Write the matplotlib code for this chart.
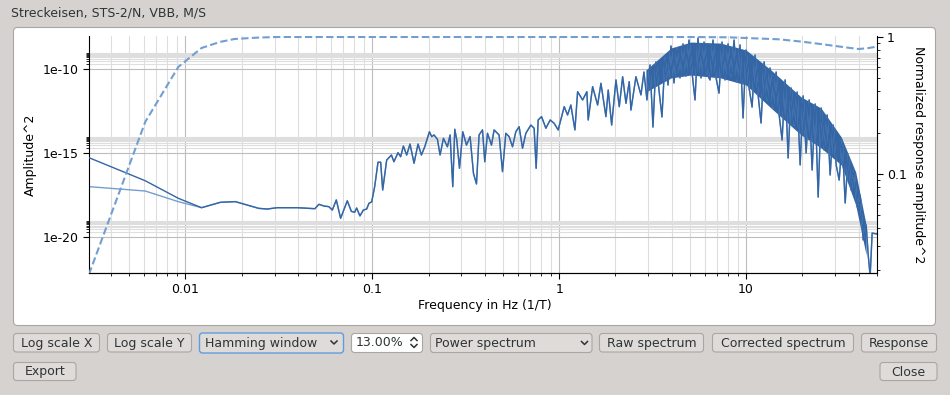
import numpy as np
import matplotlib
matplotlib.use("Agg")
import matplotlib.pyplot as plt
from matplotlib.patches import FancyBboxPatch
from matplotlib.lines import Line2D
from matplotlib.transforms import Affine2D
from matplotlib.ticker import FixedLocator, FuncFormatter, NullFormatter, LogLocator

# spectrum below ~2.6 Hz (frequency in Hz, log10 of amplitude^2)
low_freq = [
    0.00305, 0.0061, 0.00916, 0.0122, 0.0154, 0.0185, 0.0247, 0.0274, 0.0310, 0.0397, 0.0493,
    0.0518, 0.0551, 0.0586, 0.0611, 0.0642, 0.0677, 0.0735, 0.0773, 0.0805, 0.0825,
    0.0859, 0.0896, 0.0933, 0.0960, 0.0993, 0.1030, 0.1073, 0.1109, 0.1137, 0.1194,
    0.1266, 0.1306, 0.1373, 0.1419, 0.1467, 0.1528, 0.1592, 0.1673, 0.1757, 0.1832,
    0.1909, 0.2022, 0.2080, 0.2140, 0.2232, 0.2305, 0.2403, 0.2524, 0.2607, 0.2696,
    0.2763, 0.2832, 0.2928, 0.3050, 0.3192, 0.3337, 0.3479, 0.3610, 0.3728, 0.3888,
    0.3999, 0.4135, 0.4344, 0.4485, 0.4771, 0.4975, 0.5182, 0.5398, 0.5628, 0.5862,
    0.6105, 0.6368, 0.6633, 0.7056, 0.7346, 0.7530, 0.7718, 0.8049, 0.8488, 0.8952,
    0.9402, 0.9877, 1.030, 1.064, 1.109, 1.155, 1.214, 1.255, 1.335, 1.407,
    1.430, 1.510, 1.606, 1.673, 1.779, 1.830, 1.909, 2.013, 2.097, 2.186,
    2.277, 2.371, 2.421, 2.575,
]
low_exp = [
    -15.27, -16.64, -17.68, -18.24, -17.92, -17.88, -18.28, -18.32, -18.24, -18.24, -18.30,
    -18.04, -18.14, -18.18, -18.38, -17.78, -18.87, -17.83, -18.46, -18.51, -18.26,
    -18.73, -18.38, -18.32, -17.98, -17.89, -16.99, -15.54, -15.54, -17.19, -15.41,
    -15.11, -15.51, -14.97, -15.21, -14.58, -15.11, -14.46, -15.60, -14.46, -15.11,
    -14.62, -13.73, -14.02, -13.92, -14.18, -15.11, -14.12, -14.62, -13.92, -16.99,
    -13.58, -14.22, -15.90, -13.73, -14.52, -14.02, -16.20, -16.83, -13.92, -13.62,
    -15.51, -13.82, -14.52, -13.62, -13.92, -16.10, -13.82, -14.02, -14.62, -13.73,
    -13.43, -14.71, -13.82, -13.33, -13.52, -15.90, -13.03, -12.83, -13.52, -13.03,
    -13.23, -13.62, -12.83, -12.24, -12.73, -12.14, -13.62, -11.35, -11.84, -11.35,
    -13.03, -11.05, -12.14, -10.85, -12.83, -11.25, -13.33, -10.65, -12.24, -10.46,
    -12.04, -10.75, -12.44, -10.46,
]
# spectrum above ~2.7 Hz, where the trace gets dense
high_freq = [
    2.739, 2.842, 2.949, 3.061, 3.176, 3.296, 3.420, 3.549, 3.683, 3.822,
    3.966, 4.115, 4.270, 4.431, 4.598, 4.771, 4.951, 5.137, 5.331, 5.532,
    5.741, 5.957, 6.181, 6.414, 6.656, 6.906, 7.167, 7.437, 7.717, 8.008,
    8.310, 8.623, 8.948, 9.286, 9.636, 10.0, 10.38, 10.77, 11.17, 11.60,
    12.03, 12.49, 12.96, 13.44, 13.95, 14.48, 15.03, 15.59, 16.18, 16.79,
    17.42, 18.08, 18.76, 19.47, 20.20, 20.96, 21.75, 22.57, 23.43, 24.31,
    25.22, 26.17, 27.16, 28.18, 29.24, 30.35, 31.49, 32.68, 33.91, 35.19,
    36.51, 37.89, 39.31, 40.80, 42.34, 43.93, 45.03, 46.13, 47.28, 50.0,
]
high_exp = [
    -11.54, -10.18, -11.84, -9.76, -13.45, -9.58, -11.25, -12.85, -9.35, -10.95,
    -8.63, -10.83, -8.75, -10.53, -8.51, -10.42, -8.28, -10.18, -11.84, -8.16,
    -10.53, -8.40, -10.30, -10.65, -8.28, -10.53, -11.43, -8.40, -10.65, -8.51,
    -10.42, -8.28, -10.77, -8.57, -12.91, -8.87, -11.13, -12.26, -9.17, -11.54,
    -13.21, -9.58, -11.84, -9.94, -12.32, -10.18, -12.73, -14.22, -10.65, -15.29,
    -11.13, -13.33, -11.37, -15.70, -11.60, -14.99, -11.84, -16.00, -12.08, -17.61,
    -12.32, -14.81, -12.73, -16.30, -13.33, -15.70, -16.60, -14.22, -17.96, -15.11,
    -17.19, -16.00, -18.20, -17.49, -20.16, -19.27, -21.05, -22.30, -19.75, -19.80,
]
# raw spectrum only differs from the corrected one in the first bins
raw_head = [-16.99, -17.25, -17.88]

# solid core of the dense high frequency trace (lower / upper edge)
band_freq = [2.91, 3.97, 5.07, 7.30, 10.0, 13.6, 19.7, 25.2, 32.3, 38.6, 43.9]
band_hi = [-10.06, -8.75, -8.40, -8.46, -8.87, -10.06, -11.66, -12.32, -14.04, -16.12, -19.27]
band_lo = [-11.37, -10.53, -10.36, -10.53, -10.95, -12.32, -13.92, -14.69, -15.70, -18.08, -21.05]

# normalized response amplitude^2
resp_freq = [0.00305, 0.0061, 0.00916, 0.0122, 0.0153, 0.0183, 0.0244, 0.0305, 0.1, 1.0,
             5.0, 8.0, 10.0, 15.0, 20.0, 25.0, 30.0, 35.0, 40.0, 45.0, 50.0]
resp_amp = [0.0185, 0.240, 0.604, 0.831, 0.92, 0.967, 0.99, 1.0, 1.0, 1.0,
            1.0, 0.995, 0.983, 0.962, 0.924, 0.889, 0.86, 0.836, 0.817, 0.83, 0.85]

BG = "#d6d2cf"
DARK = "#3465a4"
LIGHT = "#729fcf"
TXT = "#2e3436"
W, H = 950, 395

fig = plt.figure(figsize=(W / 100, H / 100), dpi=100, facecolor=BG)
gui = Affine2D().scale(1, -1).translate(0, H)  # pixel coords, origin top-left


def box(x0, y0, x1, y1, face, edge, r=3, lw=0.8, z=1):
    p = FancyBboxPatch((x0, y0), x1 - x0, y1 - y0,
                       boxstyle=f"round,pad=0,rounding_size={r}", transform=gui,
                       facecolor=face, edgecolor=edge, linewidth=lw, zorder=z)
    fig.add_artist(p)


def chevron(pts, z=3):
    xs, ys = zip(*pts)
    fig.add_artist(Line2D(xs, ys, transform=gui, color=TXT, lw=1.1, zorder=z))


fig.text(11, 13, "Streckeisen, STS-2/N, VBB, M/S", transform=gui, fontsize=9,
         va="center", ha="left", color=TXT)
box(13.5, 27.5, 935.5, 325.5, "white", "#a9a5a2", r=4, z=-2)

# plot area
ax = fig.add_axes([89 / W, (H - 273) / H, (876.7 - 89) / W, (273 - 36) / H])
ax.set_facecolor("white")
ax.set_xscale("log")
ax.set_yscale("log")
ax.set_xlim(0.00305, 50)
ax.set_ylim(10 ** -22.12, 10 ** -8.04)

spec_freq = np.array(low_freq + high_freq)
corr = 10 ** np.array(low_exp + high_exp)
raw = corr.copy()
raw[:len(raw_head)] = 10 ** np.array(raw_head)
ax.fill_between(band_freq, 10 ** np.array(band_lo), 10 ** np.array(band_hi),
                color=DARK, lw=0, zorder=2)
ax.plot(spec_freq, raw, color=LIGHT, lw=1.0, zorder=2)
ax.plot(spec_freq, corr, color=DARK, lw=1.0, zorder=3)

ax.yaxis.set_major_locator(FixedLocator([1e-20, 1e-15, 1e-10]))
ax.yaxis.set_minor_locator(FixedLocator([k * 10.0 ** e for e in (-20, -15, -10) for k in range(2, 10)]))
ax.yaxis.set_major_formatter(FuncFormatter(lambda v, _: f"1e{int(round(np.log10(v)))}"))
ax.yaxis.set_minor_formatter(NullFormatter())
ax.xaxis.set_major_locator(LogLocator(base=10))
ax.xaxis.set_minor_locator(LogLocator(base=10, subs=range(2, 10)))
ax.xaxis.set_major_formatter(FuncFormatter(lambda v, _: f"{v:g}"))
ax.xaxis.set_minor_formatter(NullFormatter())

ax.grid(True, which="major", color="#bdbdbd", lw=0.8)
ax.grid(True, which="minor", color="#dedede", lw=0.8)
ax.set_axisbelow(True)
for s in ("top", "right"):
    ax.spines[s].set_visible(False)
ax.tick_params(which="both", direction="out", labelsize=9, colors="black")
ax.tick_params(which="major", length=4)
ax.tick_params(which="minor", length=2.5)

ax2 = ax.twinx()
ax2.set_yscale("log")
ax2.set_ylim(0.0189, 1.017)
ax2.plot(resp_freq, resp_amp, color=LIGHT, lw=1.5, ls=(0, (3.5, 1.6)))
ax2.yaxis.set_major_locator(FixedLocator([0.1, 1]))
ax2.yaxis.set_minor_locator(FixedLocator([k * 10.0 ** e for e in (-2, -1) for k in range(2, 10)]))
ax2.yaxis.set_major_formatter(FuncFormatter(lambda v, _: f"{v:g}"))
ax2.yaxis.set_minor_formatter(NullFormatter())
for s in ("top", "left"):
    ax2.spines[s].set_visible(False)
ax2.tick_params(which="both", direction="out", labelsize=9, colors="black")
ax2.tick_params(which="major", length=4)
ax2.tick_params(which="minor", length=2.5)

fig.text(485, 305, "Frequency in Hz (1/T)", transform=gui, fontsize=9, ha="center", va="center")
fig.text(30, 155, "Amplitude^2", transform=gui, fontsize=9, ha="center", va="center", rotation=90)
fig.text(918, 155, "Normalized response amplitude^2", transform=gui, fontsize=9,
         ha="center", va="center", rotation=270)

# controls below the plot
buttons = [("Log scale X", 13.5, 99.5, 333.5, 352), ("Log scale Y", 107.5, 191.5, 333.5, 352),
           ("Raw spectrum", 599.5, 703.5, 333.5, 352), ("Corrected spectrum", 712.5, 853.5, 333.5, 352),
           ("Response", 861.5, 936.5, 333.5, 352), ("Export", 13.5, 76, 362.5, 380.5),
           ("Close", 880, 937, 362.5, 380.5)]
for label, x0, x1, y0, y1 in buttons:
    box(x0, y0, x1, y1, "#dfdbd8", "#aaa6a2")
    fig.text((x0 + x1) / 2, (y0 + y1) / 2 + 0.5, label, transform=gui, fontsize=9,
             ha="center", va="center", color=TXT)

box(199.5, 333, 343.5, 353, "#dfdbd8", "#5e9ee0", lw=1.0)
fig.text(205, 343, "Hamming window", transform=gui, fontsize=9, va="center", color=TXT)
chevron([(331, 341), (334, 344), (337, 341)])

box(351.5, 333.5, 422.5, 352.5, "white", "#aaa6a2")
fig.text(355.5, 343, "13.00%", transform=gui, fontsize=9, va="center", color=TXT)
chevron([(411, 340.5), (414, 337.5), (417, 340.5)])
chevron([(411, 344.5), (414, 347.5), (417, 344.5)])

box(430.5, 333.5, 592, 352.5, "#dfdbd8", "#aaa6a2")
fig.text(435, 343, "Power spectrum", transform=gui, fontsize=9, va="center", color=TXT)
chevron([(581.5, 341.5), (584.5, 344.5), (587.5, 341.5)])

fig.savefig("out.png", dpi=100, facecolor=BG)
